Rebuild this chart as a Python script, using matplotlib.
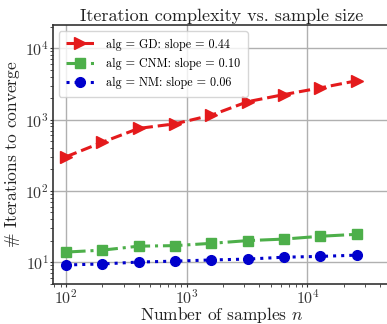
import numpy as np
import matplotlib
matplotlib.use('Agg')
from matplotlib import pyplot as plt

plt.rcParams['font.family'] = 'serif'
plt.rcParams['font.serif'] = ['cmr10']
plt.rcParams['mathtext.fontset'] = 'cm'
plt.rcParams['axes.unicode_minus'] = False
plt.rcParams['axes.formatter.use_mathtext'] = True

n_samples = [100, 200, 400, 800, 1600, 3200, 6400, 12800, 25600]
iters_gd = [300, 480, 750, 870, 1150, 1780, 2240, 2780, 3500]
iters_cnm = [13.8, 14.7, 16.7, 17.0, 18.3, 20.0, 21.0, 23.0, 24.5]
iters_nm = [9.1, 9.4, 10.0, 10.3, 10.7, 11.0, 11.7, 12.0, 12.5]
labels = ['alg = GD: slope = 0.44', 'alg = CNM: slope = 0.10', 'alg = NM: slope = 0.06']

fig = plt.figure(figsize=(3.87, 3.24), dpi=100)
ax = fig.add_axes((0.137, 0.125, 0.87, 0.797))

ax.plot(n_samples, iters_gd, color='#e41a1c', ls='--', lw=2.2, marker='>', ms=8, label=labels[0])
ax.plot(n_samples, iters_cnm, color='#4daf4a', ls='-.', lw=2.2, marker='s', ms=7, label=labels[1])
ax.plot(n_samples, iters_nm, color='#0000cc', ls=':', lw=2.2, marker='o', ms=7, label=labels[2])

ax.set_xscale('log')
ax.set_yscale('log')
ax.set_xlim(78, 48000)
ax.set_ylim(5, 21000)
ax.grid(which='major', color='#b0b0b0', lw=1)
ax.set_axisbelow(True)
for s in ax.spines.values():
    s.set_color('#333333')
    s.set_linewidth(1.2)
ax.tick_params(which='major', labelsize=11.5, length=2.5, pad=0.5, color='#333333', labelcolor='#333333')
ax.tick_params(which='minor', length=2, color='#333333')

ax.set_title('Iteration complexity vs. sample size', fontsize=13, pad=3, color='#222222')
ax.set_xlabel(r'Number of samples $n$', fontsize=12.5, labelpad=-1, color='#222222')
ax.set_ylabel(r'$\#$ Iterations to converge', fontsize=12.5, labelpad=2, color='#222222')
ax.legend(loc='upper left', fontsize=8.7, framealpha=0.8, handlelength=2.3, handletextpad=1.0,
          borderpad=0.6, labelspacing=0.6, borderaxespad=0.5)

plt.savefig('out.png', dpi=100)
